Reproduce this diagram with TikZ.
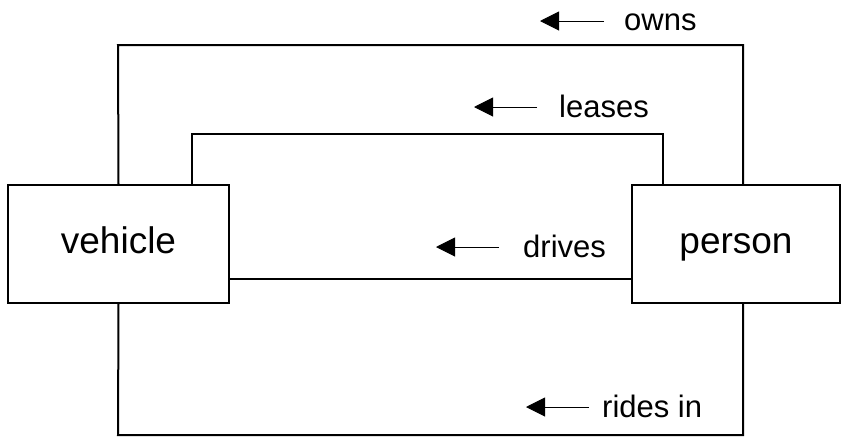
\documentclass[tikz,border=0pt]{standalone}
\usepackage{fontspec}
\setmainfont{Liberation Sans}
\usetikzlibrary{arrows.meta,calc}
\begin{document}
\begin{tikzpicture}[x=1pt,y=-1pt,
  entity/.style={draw,line width=2pt,minimum height=118pt,inner sep=0pt,text height=27pt,text depth=8pt,font=\fontsize{37}{40}\selectfont},
  conn/.style={line width=2pt},
  lbl/.style={inner sep=0pt,anchor=west,font=\fontsize{31}{34}\selectfont},
  dirarrow/.style={line width=1pt,-{Triangle[length=19pt,width=19pt]}}]
\useasboundingbox (0,0) rectangle (847,437);
\node[entity,minimum width=221pt] (vehicle) at (118.5,244) {vehicle};
\node[entity,minimum width=208pt] (person) at (736,244) {person};
% owns
\coordinate (ownsL) at (118,45);
\coordinate (ownsR) at (743,45);
\draw[conn] (vehicle.north) -- (ownsL) -- (ownsR) -- (ownsR |- person.north);
% leases
\coordinate (leasesL) at (192,134);
\coordinate (leasesR) at (663,134);
\draw[conn] (leasesL |- vehicle.north) -- (leasesL) -- (leasesR) -- (leasesR |- person.north);
% drives
\draw[conn] ([yshift=-35pt]vehicle.east) -- ([yshift=-35pt]person.west);
% rides in
\coordinate (ridesL) at (118,435);
\coordinate (ridesR) at (743,435);
\draw[conn] (vehicle.south) -- (ridesL) -- (ridesR) -- (ridesR |- person.south);
% labels and arrows
\node[lbl] (owns) at (624,22) {owns};
\coordinate (ownsT) at (604,21); \coordinate (ownsH) at (540,21);
\draw[dirarrow] (ownsT) -- (ownsH);
\node[lbl] (leases) at (559,106) {leases};
\coordinate (leasesT) at (537,107); \coordinate (leasesH) at (474,107);
\draw[dirarrow] (leasesT) -- (leasesH);
\node[lbl] (drives) at (523,246) {drives};
\coordinate (drivesT) at (499,247); \coordinate (drivesH) at (436,247);
\draw[dirarrow] (drivesT) -- (drivesH);
\node[lbl] (rides) at (602,406) {rides in};
\coordinate (ridesT) at (589,407); \coordinate (ridesH) at (526,407);
\draw[dirarrow] (ridesT) -- (ridesH);
\end{tikzpicture}
\end{document}
